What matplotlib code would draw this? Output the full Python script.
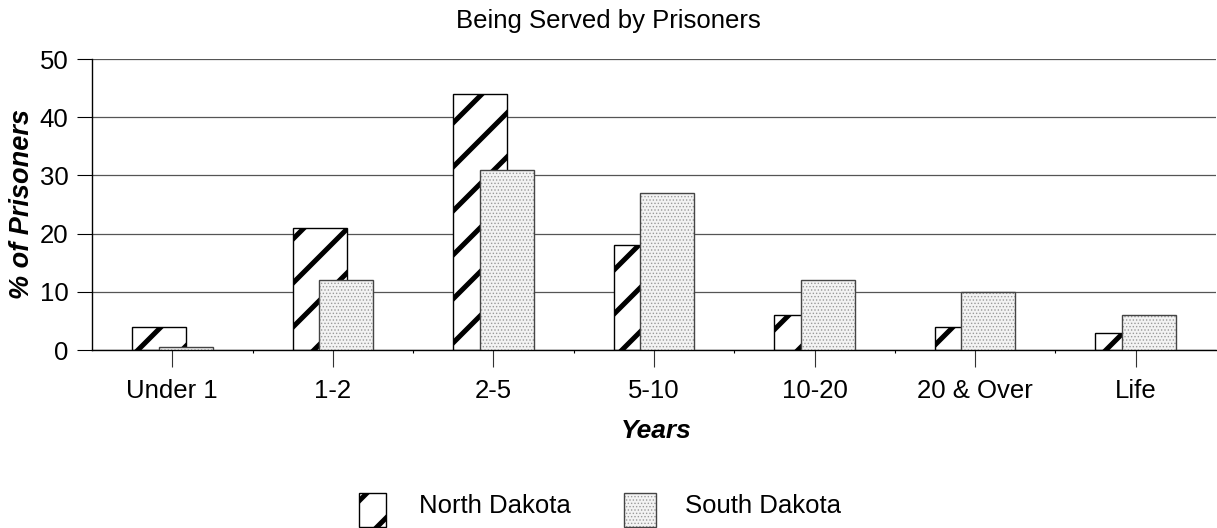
import numpy as np
import matplotlib
matplotlib.use('Agg')
import matplotlib.pyplot as plt
from matplotlib.patches import Rectangle
from matplotlib.lines import Line2D
from matplotlib.transforms import IdentityTransform

# sentence length groups and percentage of prisoners in each
categories = ['Under 1', '1-2', '2-5', '5-10', '10-20', '20 & Over', 'Life']
north_dakota = [4, 21, 44, 18, 6, 4, 3]
south_dakota = [0.5, 12, 31, 27, 12, 10, 6]
series_names = ['North Dakota', 'South Dakota']
yticks = [0, 10, 20, 30, 40, 50]

plt.rcParams['font.family'] = ['Liberation Sans', 'DejaVu Sans']
plt.rcParams['hatch.linewidth'] = 0.6

W, H = 1217, 528
fig = plt.figure(figsize=(W / 100, H / 100), dpi=100)
ax = fig.add_axes([92 / W, (H - 350) / H, (1216 - 92) / W, (350 - 59) / H])

x = np.arange(len(categories))
bw = 0.336
off = 0.083

ax.set_xlim(-0.5, len(categories) - 0.5)
ax.set_ylim(0, 50)


def stripes(patch, parent, spacing=44, phase=-48, lw=3.6, z=2.5):
    # thick "/" lines in pixel space, clipped to the patch
    x0, y0, x1, y1 = patch.get_window_extent().extents
    k0 = int(np.floor((y0 - x1 - phase) / spacing)) - 1
    k1 = int(np.ceil((y1 - x0 - phase) / spacing)) + 1
    xs = np.array([x0 - 10, x1 + 10])
    for k in range(k0, k1 + 1):
        c = phase + k * spacing
        ln = Line2D(xs, xs + c, transform=IdentityTransform(), color='black',
                    lw=lw, solid_capstyle='butt', zorder=z)
        parent.add_artist(ln)
        ln.set_clip_path(patch)


nd_bars = ax.bar(x - off, north_dakota, bw, facecolor='white',
                 edgecolor='black', linewidth=1, zorder=2)
for p in nd_bars:
    stripes(p, ax)

ax.bar(x + off, south_dakota, bw, facecolor='#f3f3f3', edgecolor='#9a9a9a',
       hatch='.....', linewidth=0, zorder=3)
ax.bar(x + off, south_dakota, bw, fill=False, edgecolor='#444444',
       linewidth=1, zorder=3.1)

# axes styling
ax.set_yticks(yticks)
ax.yaxis.grid(True, color='#555555', linewidth=0.9)
ax.set_axisbelow(True)
for s in ['top', 'right']:
    ax.spines[s].set_visible(False)
ax.spines['left'].set_linewidth(1)
ax.spines['bottom'].set_linewidth(1)
ax.set_xticks(x)
ax.set_xticklabels(categories)
ax.set_xticks(np.arange(len(categories) - 1) + 0.5, minor=True)
ax.tick_params(axis='x', which='major', length=12, width=0.8, pad=9,
               labelsize=18.5, color='#333333')
ax.tick_params(axis='x', which='minor', length=2, width=0.8)
ax.tick_params(axis='y', length=11, width=0.8, pad=6, labelsize=18.5)

fig.text(0.5, 500 / H, 'Being Served by Prisoners', ha='center',
         va='baseline', fontsize=18.5)
fig.text(22 / W, (H - 204) / H, '% of Prisoners', rotation=90, ha='center',
         va='center', fontsize=19.5, fontweight='bold', style='italic')
fig.text(656 / W, 90 / H, 'Years', ha='center', va='baseline',
         fontsize=19, fontweight='bold', style='italic')

# legend drawn by hand at the bottom
nd_key = Rectangle((359, 1), 27, 34, transform=IdentityTransform(),
                   facecolor='white', edgecolor='black', linewidth=1, zorder=2)
fig.add_artist(nd_key)
stripes(nd_key, fig, phase=-332)
fig.add_artist(Rectangle((624, 1), 32, 34, transform=IdentityTransform(),
                         facecolor='#f3f3f3', edgecolor='#9a9a9a',
                         hatch='.....', linewidth=0, zorder=2))
fig.add_artist(Rectangle((624, 1), 32, 34, transform=IdentityTransform(),
                         fill=False, edgecolor='#444444', linewidth=1, zorder=3))
fig.text(419 / W, 22 / H, series_names[0], ha='left', va='center', fontsize=18.5)
fig.text(685 / W, 22 / H, series_names[1], ha='left', va='center', fontsize=18.5)

fig.savefig('out.png', dpi=100)
